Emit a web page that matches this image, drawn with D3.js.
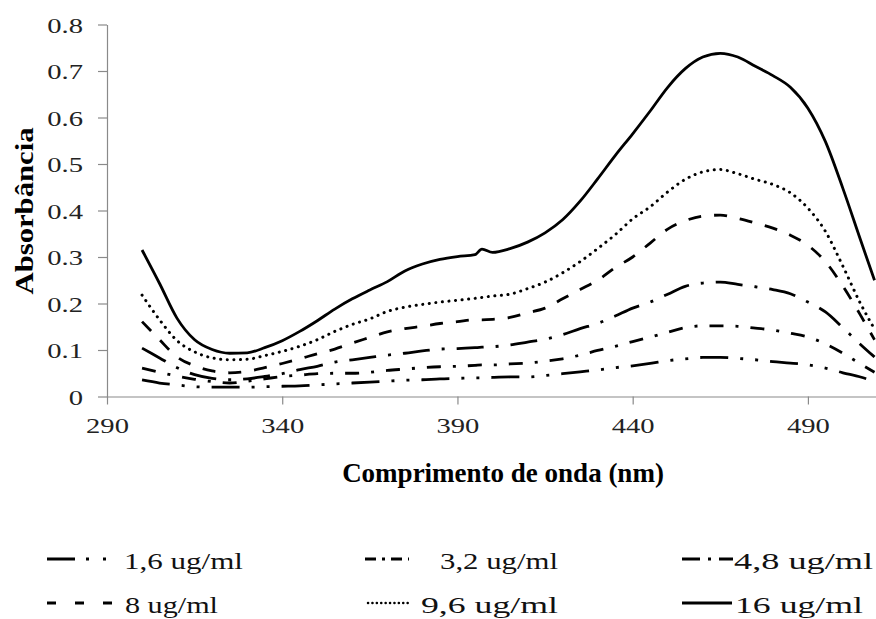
<!DOCTYPE html>
<html>
<head>
<meta charset="utf-8">
<script src="https://cdn.jsdelivr.net/npm/d3@7"></script>
<style>
  html, body { margin: 0; padding: 0; background: #fff; }
  svg { display: block; font-family: "Liberation Serif", "Times New Roman", serif; }
</style>
</head>
<body>
<svg id="chart" width="876" height="619"></svg>
<script>
// ---- data ----
const wavelengths = [300,305,310,315,320,325,330,335,340,345,350,355,360,365,370,375,380,385,390,395,397,400,405,410,415,420,425,430,435,440,445,450,455,460,465,470,475,480,485,490,495,500,505,509];

const s1_6 = [0.0355,0.029,0.025,0.021,0.020,0.020,0.020,0.021,0.022,0.023,0.025,0.027,0.029,0.031,0.033,0.035,0.036,0.038,0.039,0.040,0.040,0.041,0.042,0.042,0.045,0.049,0.053,0.057,0.062,0.066,0.071,0.077,0.081,0.084,0.084,0.082,0.079,0.075,0.072,0.068,0.061,0.051,0.042,0.032];
const s3_2 = [0.061,0.052,0.044,0.037,0.032,0.029,0.033,0.038,0.043,0.046,0.049,0.050,0.050,0.052,0.056,0.059,0.062,0.064,0.065,0.067,0.068,0.068,0.070,0.072,0.076,0.081,0.089,0.099,0.108,0.118,0.128,0.138,0.148,0.152,0.152,0.151,0.147,0.143,0.136,0.128,0.113,0.093,0.070,0.052];
const s4_8 = [0.104,0.083,0.062,0.047,0.039,0.036,0.038,0.043,0.049,0.058,0.065,0.074,0.079,0.084,0.089,0.093,0.098,0.102,0.103,0.105,0.106,0.107,0.111,0.117,0.123,0.133,0.146,0.157,0.173,0.190,0.203,0.220,0.237,0.244,0.246,0.241,0.236,0.230,0.221,0.203,0.182,0.148,0.112,0.085];
const s8 = [0.161,0.122,0.085,0.066,0.055,0.051,0.054,0.062,0.071,0.081,0.092,0.102,0.115,0.127,0.139,0.146,0.151,0.157,0.161,0.165,0.165,0.166,0.170,0.180,0.190,0.210,0.230,0.250,0.277,0.300,0.330,0.360,0.378,0.388,0.390,0.383,0.373,0.362,0.347,0.325,0.290,0.237,0.175,0.122];
const s9_6 = [0.218,0.165,0.120,0.096,0.083,0.079,0.080,0.088,0.097,0.108,0.122,0.140,0.155,0.167,0.183,0.192,0.198,0.203,0.207,0.211,0.213,0.216,0.220,0.232,0.246,0.266,0.290,0.318,0.348,0.382,0.408,0.440,0.467,0.483,0.488,0.479,0.467,0.456,0.438,0.405,0.355,0.280,0.200,0.145];
const s16 = [0.315,0.243,0.168,0.122,0.101,0.093,0.094,0.105,0.120,0.140,0.163,0.188,0.210,0.229,0.247,0.270,0.285,0.295,0.301,0.305,0.317,0.310,0.318,0.332,0.352,0.380,0.420,0.468,0.518,0.565,0.614,0.665,0.705,0.730,0.738,0.730,0.710,0.690,0.665,0.620,0.548,0.447,0.337,0.250];

const seriesNames = ["1,6 ug/ml","3,2 ug/ml","4,8 ug/ml","8 ug/ml","9,6 ug/ml","16 ug/ml"];
const seriesValues = [s1_6, s3_2, s4_8, s8, s9_6, s16];

const xTicks = [290,340,390,440,490];
const yTicks = [0,0.1,0.2,0.3,0.4,0.5,0.6,0.7,0.8];
const yTickLabels = ["0","0.1","0.2","0.3","0.4","0.5","0.6","0.7","0.8"];

const xTitle = "Comprimento de onda (nm)";
const yTitle = "Absorbância";

// ---- styles (not data) ----
const dashStyles = ["28,12,3,12,3,12", "14,12,3,12", "27,12,3,12", "13,13", "0.1,6.5", null];
const legendDash = ["28,11,3,14,3,12", "11,6,3,6", "18,8,3,8", "9,19", "0.1,4.3", null];

// ---- layout ----
const svg = d3.select("#chart");
const x = d3.scaleLinear().domain([290, 510]).range([107, 878]);
const y = d3.scaleLinear().domain([0, 0.8]).range([396.5, 24.5]);
const axisColor = "#8a8a8a";
const STRETCH = 1.3;

function stretch(sel, k) {
  sel.each(function () {
    const l = this.getComputedTextLength();
    d3.select(this).attr("textLength", l * k).attr("lengthAdjust", "spacingAndGlyphs");
  });
}

// y axis
const yAxis = svg.append("g")
  .attr("transform", `translate(${x(290)},0)`)
  .call(d3.axisLeft(y).tickValues(yTicks).tickFormat((d, i) => yTickLabels[i]).tickSize(9).tickSizeOuter(0).tickPadding(15));
yAxis.select(".domain").attr("stroke", axisColor).attr("stroke-width", 1.2);
yAxis.selectAll(".tick line").attr("stroke", axisColor).attr("stroke-width", 1.2);
yAxis.selectAll(".tick text")
  .attr("font-family", "Liberation Serif, Times New Roman, serif")
  .attr("font-size", 22).attr("fill", "#222").attr("dy", "0.36em");
stretch(yAxis.selectAll(".tick text"), STRETCH);

// x axis
const xAxis = svg.append("g")
  .attr("transform", `translate(0,${y(0)})`)
  .call(d3.axisBottom(x).tickValues(xTicks).tickFormat(d3.format("d")).tickSize(8).tickSizeOuter(0).tickPadding(13));
xAxis.select(".domain").attr("stroke", axisColor).attr("stroke-width", 1.2);
xAxis.selectAll(".tick line").attr("stroke", axisColor).attr("stroke-width", 1.2);
xAxis.selectAll(".tick text")
  .attr("font-family", "Liberation Serif, Times New Roman, serif")
  .attr("font-size", 22).attr("fill", "#222");
stretch(xAxis.selectAll(".tick text"), STRETCH);

// series lines
const line = d3.line()
  .x((d, i) => x(wavelengths[i]))
  .y(d => y(d))
  .curve(d3.curveMonotoneX);

svg.append("g").selectAll("path")
  .data(seriesValues)
  .join("path")
  .attr("d", d => line(d))
  .attr("fill", "none")
  .attr("stroke", "#000")
  .attr("stroke-width", (d, i) => i === 4 ? 3 : 2.8)
  .attr("stroke-linecap", (d, i) => i === 4 ? "round" : "butt")
  .attr("stroke-dasharray", (d, i) => dashStyles[i]);

// axis titles
svg.append("text")
  .attr("x", 503).attr("y", 482)
  .attr("text-anchor", "middle")
  .attr("font-weight", "bold").attr("font-size", 27)
  .text(xTitle);

svg.append("text")
  .attr("transform", `translate(33,211) rotate(-90)`)
  .attr("text-anchor", "middle")
  .attr("font-weight", "bold").attr("font-size", 26)
  .attr("textLength", 167).attr("lengthAdjust", "spacingAndGlyphs")
  .text(yTitle);

// legend
const legendLayout = [
  {sx: 47, sw: 60, tx: 124, tw: 119, cy: 559},
  {sx: 365, sw: 44, tx: 440, tw: 118, cy: 559},
  {sx: 682, sw: 51, tx: 734, tw: 139, cy: 559},
  {sx: 47, sw: 65, tx: 125, tw: 93, cy: 603},
  {sx: 368, sw: 40, tx: 421, tw: 137, cy: 603},
  {sx: 682, sw: 50, tx: 735, tw: 128, cy: 603}
];

const lg = svg.append("g").selectAll("g")
  .data(seriesNames)
  .join("g");
lg.append("line")
  .attr("x1", (d, i) => legendLayout[i].sx)
  .attr("x2", (d, i) => legendLayout[i].sx + legendLayout[i].sw)
  .attr("y1", (d, i) => legendLayout[i].cy)
  .attr("y2", (d, i) => legendLayout[i].cy)
  .attr("stroke", "#000")
  .attr("stroke-width", (d, i) => i === 4 ? 2.5 : 3.2)
  .attr("stroke-linecap", (d, i) => i === 4 ? "round" : "butt")
  .attr("stroke-dasharray", (d, i) => legendDash[i]);
lg.append("text")
  .attr("x", (d, i) => legendLayout[i].tx)
  .attr("y", (d, i) => legendLayout[i].cy + 10)
  .attr("font-size", 24)
  .attr("fill", "#111")
  .attr("textLength", (d, i) => legendLayout[i].tw)
  .attr("lengthAdjust", "spacingAndGlyphs")
  .text(d => d);
</script>
</body>
</html>
